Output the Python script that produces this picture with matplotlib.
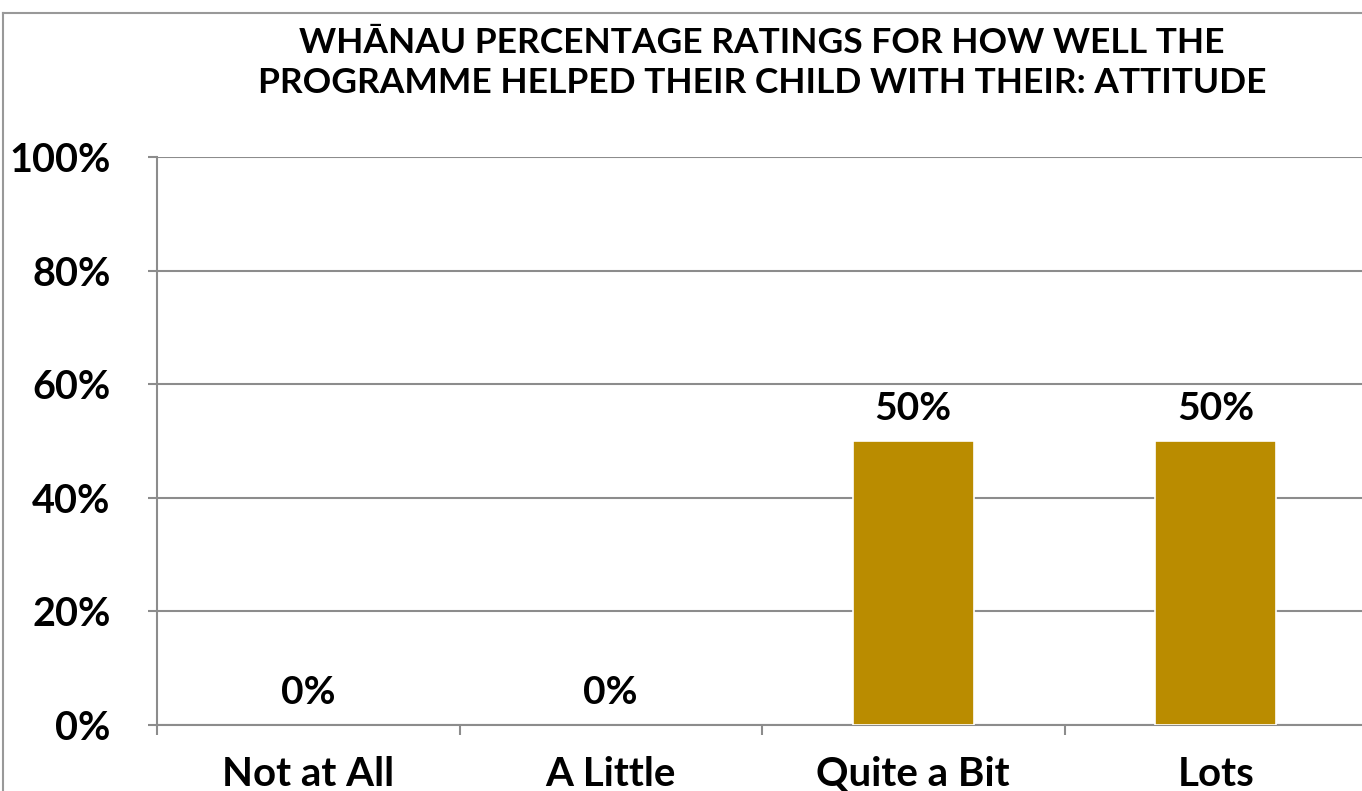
import matplotlib

matplotlib.use("Agg")
import matplotlib.pyplot as plt
from matplotlib.lines import Line2D
from matplotlib.ticker import FixedLocator, PercentFormatter

categories = ["Not at All", "A Little", "Quite a Bit", "Lots"]
values = [0, 0, 50, 50]
y_ticks = [0, 20, 40, 60, 80, 100]
title = "WHĀNAU PERCENTAGE RATINGS FOR HOW WELL THE\nPROGRAMME HELPED THEIR CHILD WITH THEIR: ATTITUDE"

bar_color = "#BA8C00"
grid_color = "#8C8C8C"

plt.rcParams["font.family"] = ["Lato", "DejaVu Sans"]
plt.rcParams["font.weight"] = "bold"

W, H = 1362, 791
fig = plt.figure(figsize=(W / 100, H / 100), dpi=100)
ax = fig.add_axes([157 / W, 1 - 725 / H, (1367 - 157) / W, (725 - 157) / H])

x = list(range(len(categories)))
edge_w = [1.2 if v > 0 else 0 for v in values]
ax.bar(x, values, width=0.4, color=bar_color, edgecolor="white", linewidth=edge_w, zorder=3)

for xi, v in zip(x, values):
    ax.annotate(f"{v}%", (xi, v), xytext=(0, 11), textcoords="offset points",
                ha="center", va="bottom", fontsize=28, fontweight="bold", color="black")

ax.set_xlim(-0.5, len(categories) - 0.5)
ax.set_ylim(0, 100)
ax.set_yticks(y_ticks)
ax.yaxis.set_major_formatter(PercentFormatter(decimals=0))
ax.set_xticks(x)
ax.set_xticklabels(categories)
ax.xaxis.set_minor_locator(FixedLocator([i - 0.5 for i in range(len(categories) + 1)]))

ax.tick_params(axis="x", which="major", length=0, pad=22, labelsize=29)
ax.tick_params(axis="x", which="minor", length=7, width=1.5, color=grid_color, direction="out")
ax.tick_params(axis="y", length=6.5, width=1.5, color=grid_color, pad=27, labelsize=28.5)
for lab in ax.get_xticklabels() + ax.get_yticklabels():
    lab.set_fontweight("bold")

ax.grid(axis="y", color=grid_color, linewidth=1.5, zorder=0)
ax.set_axisbelow(True)
for side in ["top", "right"]:
    ax.spines[side].set_visible(False)
for side in ["left", "bottom"]:
    ax.spines[side].set_color(grid_color)
    ax.spines[side].set_linewidth(1.5)

fig.text((157 + 1367) / 2 / W, 1 - 63 / H, title, ha="center", va="center",
         fontsize=25.5, fontweight="bold", linespacing=1.33)

# frame of the original chart area (only top and left edges are in view)
fig.add_artist(Line2D([3 / W, 1], [1 - 12.5 / H] * 2, transform=fig.transFigure,
                      color="#999999", linewidth=1.5))
fig.add_artist(Line2D([3 / W] * 2, [0, 1 - 12.5 / H], transform=fig.transFigure,
                      color="#999999", linewidth=1.5))

fig.savefig("out.png", dpi=100)
